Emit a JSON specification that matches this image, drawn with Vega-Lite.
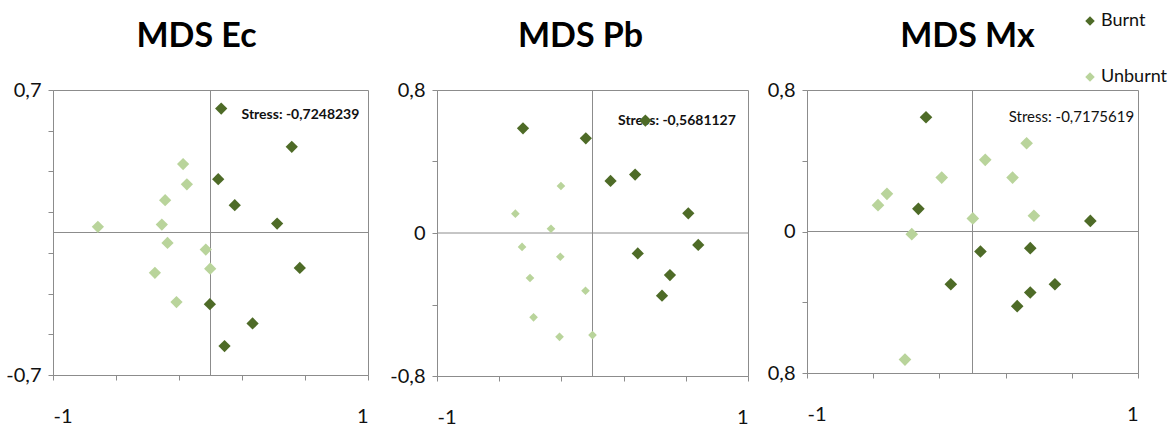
{
  "$schema": "https://vega.github.io/schema/vega-lite/v6.json",
  "background": "white",
  "padding": {"left": 5, "top": 12, "right": 0, "bottom": 0},
  "spacing": 20,
  "datasets": {
    "mds": [
      {"panel": "Ec", "group": "Burnt", "x": 0.068, "y": 0.609},
      {"panel": "Ec", "group": "Burnt", "x": 0.516, "y": 0.421},
      {"panel": "Ec", "group": "Burnt", "x": 0.049, "y": 0.262},
      {"panel": "Ec", "group": "Burnt", "x": 0.154, "y": 0.134},
      {"panel": "Ec", "group": "Burnt", "x": 0.423, "y": 0.044},
      {"panel": "Ec", "group": "Burnt", "x": 0.567, "y": -0.174},
      {"panel": "Ec", "group": "Burnt", "x": -0.004, "y": -0.352},
      {"panel": "Ec", "group": "Burnt", "x": 0.267, "y": -0.447},
      {"panel": "Ec", "group": "Burnt", "x": 0.089, "y": -0.558},
      {"panel": "Ec", "group": "Unburnt", "x": -0.174, "y": 0.336},
      {"panel": "Ec", "group": "Unburnt", "x": -0.150, "y": 0.237},
      {"panel": "Ec", "group": "Unburnt", "x": -0.288, "y": 0.159},
      {"panel": "Ec", "group": "Unburnt", "x": -0.715, "y": 0.028},
      {"panel": "Ec", "group": "Unburnt", "x": -0.309, "y": 0.039},
      {"panel": "Ec", "group": "Unburnt", "x": -0.273, "y": -0.051},
      {"panel": "Ec", "group": "Unburnt", "x": -0.030, "y": -0.084},
      {"panel": "Ec", "group": "Unburnt", "x": -0.002, "y": -0.178},
      {"panel": "Ec", "group": "Unburnt", "x": -0.353, "y": -0.198},
      {"panel": "Ec", "group": "Unburnt", "x": -0.216, "y": -0.342},
      {"panel": "Pb", "group": "Burnt", "x": -0.447, "y": 0.586},
      {"panel": "Pb", "group": "Burnt", "x": -0.043, "y": 0.530},
      {"panel": "Pb", "group": "Burnt", "x": 0.340, "y": 0.629},
      {"panel": "Pb", "group": "Burnt", "x": 0.116, "y": 0.291},
      {"panel": "Pb", "group": "Burnt", "x": 0.274, "y": 0.327},
      {"panel": "Pb", "group": "Burnt", "x": 0.616, "y": 0.110},
      {"panel": "Pb", "group": "Burnt", "x": 0.680, "y": -0.067},
      {"panel": "Pb", "group": "Burnt", "x": 0.291, "y": -0.114},
      {"panel": "Pb", "group": "Burnt", "x": 0.498, "y": -0.235},
      {"panel": "Pb", "group": "Burnt", "x": 0.447, "y": -0.351},
      {"panel": "Pb", "group": "Unburnt", "x": -0.203, "y": 0.263},
      {"panel": "Pb", "group": "Unburnt", "x": -0.496, "y": 0.108},
      {"panel": "Pb", "group": "Unburnt", "x": -0.267, "y": 0.024},
      {"panel": "Pb", "group": "Unburnt", "x": -0.453, "y": -0.078},
      {"panel": "Pb", "group": "Unburnt", "x": -0.207, "y": -0.133},
      {"panel": "Pb", "group": "Unburnt", "x": -0.402, "y": -0.252},
      {"panel": "Pb", "group": "Unburnt", "x": -0.045, "y": -0.323},
      {"panel": "Pb", "group": "Unburnt", "x": -0.379, "y": -0.472},
      {"panel": "Pb", "group": "Unburnt", "x": -0.212, "y": -0.581},
      {"panel": "Pb", "group": "Unburnt", "x": 0.000, "y": -0.571},
      {"panel": "Mx", "group": "Burnt", "x": -0.281, "y": 0.646},
      {"panel": "Mx", "group": "Burnt", "x": -0.327, "y": 0.128},
      {"panel": "Mx", "group": "Burnt", "x": 0.712, "y": 0.060},
      {"panel": "Mx", "group": "Burnt", "x": 0.048, "y": -0.113},
      {"panel": "Mx", "group": "Burnt", "x": 0.349, "y": -0.094},
      {"panel": "Mx", "group": "Burnt", "x": -0.131, "y": -0.298},
      {"panel": "Mx", "group": "Burnt", "x": 0.498, "y": -0.298},
      {"panel": "Mx", "group": "Burnt", "x": 0.349, "y": -0.345},
      {"panel": "Mx", "group": "Burnt", "x": 0.270, "y": -0.422},
      {"panel": "Mx", "group": "Unburnt", "x": 0.327, "y": 0.499},
      {"panel": "Mx", "group": "Unburnt", "x": 0.077, "y": 0.405},
      {"panel": "Mx", "group": "Unburnt", "x": -0.186, "y": 0.305},
      {"panel": "Mx", "group": "Unburnt", "x": 0.242, "y": 0.305},
      {"panel": "Mx", "group": "Unburnt", "x": -0.517, "y": 0.213},
      {"panel": "Mx", "group": "Unburnt", "x": -0.571, "y": 0.149},
      {"panel": "Mx", "group": "Unburnt", "x": 0.002, "y": 0.074},
      {"panel": "Mx", "group": "Unburnt", "x": 0.371, "y": 0.089},
      {"panel": "Mx", "group": "Unburnt", "x": -0.367, "y": -0.015},
      {"panel": "Mx", "group": "Unburnt", "x": -0.408, "y": -0.724}
    ]
  },
  "hconcat": [
    {
      "width": 315, "height": 285,
      "title": {"text": "MDS Ec", "dx": -14},
      "layer": [
        {"data": {"values": [{}]}, "mark": {"type": "rule", "color": "#8c8c8c", "strokeWidth": 1}, "encoding": {"x": {"datum": 0, "type": "quantitative", "scale": {"domain": [-1, 1], "nice": false, "zero": false}}}},
        {"data": {"values": [{}]}, "mark": {"type": "rule", "color": "#8c8c8c", "strokeWidth": 1}, "encoding": {"y": {"datum": 0, "type": "quantitative", "scale": {"domain": [-0.7, 0.7], "nice": false, "zero": false}}}},
        {"data": {"values": [{}]}, "mark": {"type": "text", "font": "Lato", "fontSize": 14, "fontWeight": "bold", "align": "center", "baseline": "middle", "color": "#111"}, "encoding": {"x": {"datum": 0.571, "type": "quantitative"}, "y": {"datum": 0.575, "type": "quantitative"}, "text": {"value": "Stress: -0,7248239"}}},
        {
          "data": {"name": "mds"},
          "transform": [{"filter": "datum.panel == 'Ec'"}],
          "mark": {"type": "point", "shape": "diamond", "filled": true, "opacity": 1, "size": 150},
          "encoding": {
            "x": {"field": "x", "type": "quantitative", "scale": {"domain": [-1, 1], "nice": false, "zero": false},
                  "axis": {"values": [-1, -0.8, -0.6, -0.4, -0.2, 0, 0.2, 0.4, 0.6, 0.8, 1], "labelExpr": "datum.value == -1 ? '-1' : datum.value == 0 ? '0' : datum.value == 1 ? '1' : ''"}},
            "y": {"field": "y", "type": "quantitative", "scale": {"domain": [-0.7, 0.7], "nice": false, "zero": false},
                  "axis": {"values": [-0.7, -0.6, -0.5, -0.4, -0.3, -0.2, -0.1, 0, 0.1, 0.2, 0.3, 0.4, 0.5, 0.6, 0.7], "labelExpr": "datum.value == 0.7 ? '0,7' : datum.value == -0.7 ? '-0,7' : datum.value == 0 ? '0' : ''"}},
            "color": {"field": "group", "type": "nominal", "scale": {"domain": ["Burnt", "Unburnt"], "range": ["#4e6b27", "#b9d49b"]},
                      "legend": {"orient": "none", "legendX": 1028, "legendY": -78, "title": null, "symbolType": "diamond", "symbolSize": 90, "symbolOpacity": 1, "labelFont": "Lato", "labelFontSize": 18, "labelColor": "#111", "rowPadding": 38, "labelOffset": 2, "padding": 0}}
          }
        }
      ]
    },
    {
      "spacing": 17,
      "hconcat": [
        {
          "width": 311, "height": 286,
          "title": {"text": "MDS Pb", "dx": -12},
          "layer": [
            {"data": {"values": [{}]}, "mark": {"type": "rule", "color": "#8c8c8c", "strokeWidth": 1}, "encoding": {"x": {"datum": 0, "type": "quantitative", "scale": {"domain": [-1, 1], "nice": false, "zero": false}}}},
            {"data": {"values": [{}]}, "mark": {"type": "rule", "color": "#8c8c8c", "strokeWidth": 1}, "encoding": {"y": {"datum": 0, "type": "quantitative", "scale": {"domain": [-0.8, 0.8], "nice": false, "zero": false}}}},
            {"data": {"values": [{}]}, "mark": {"type": "text", "font": "Lato", "fontSize": 14, "fontWeight": "bold", "align": "center", "baseline": "middle", "color": "#111"}, "encoding": {"x": {"datum": 0.543, "type": "quantitative"}, "y": {"datum": 0.627, "type": "quantitative"}, "text": {"value": "Stress:  -0,5681127"}}},
            {
              "data": {"name": "mds"},
              "transform": [{"filter": "datum.panel == 'Pb' && datum.group == 'Unburnt'"}],
              "mark": {"type": "point", "shape": "diamond", "filled": true, "opacity": 1, "size": 75},
              "encoding": {
                "x": {"field": "x", "type": "quantitative", "scale": {"domain": [-1, 1], "nice": false, "zero": false},
                      "axis": {"values": [-1, -0.8, -0.6, -0.4, -0.2, 0, 0.2, 0.4, 0.6, 0.8, 1], "labelExpr": "datum.value == -1 ? '-1' : datum.value == 0 ? '0' : datum.value == 1 ? '1' : ''"}},
                "y": {"field": "y", "type": "quantitative", "scale": {"domain": [-0.8, 0.8], "nice": false, "zero": false},
                      "axis": {"values": [-0.8, -0.7, -0.6, -0.5, -0.4, -0.3, -0.2, -0.1, 0, 0.1, 0.2, 0.3, 0.4, 0.5, 0.6, 0.7, 0.8], "labelExpr": "datum.value == 0.8 ? '0,8' : datum.value == -0.8 ? '-0,8' : datum.value == 0 ? '0' : ''"}},
                "color": {"field": "group", "type": "nominal"}
              }
            },
            {
              "data": {"name": "mds"},
              "transform": [{"filter": "datum.panel == 'Pb' && datum.group == 'Burnt'"}],
              "mark": {"type": "point", "shape": "diamond", "filled": true, "opacity": 1, "size": 150},
              "encoding": {
                "x": {"field": "x", "type": "quantitative"},
                "y": {"field": "y", "type": "quantitative"},
                "color": {"field": "group", "type": "nominal"}
              }
            }
          ]
        },
        {
          "width": 331, "height": 283,
          "title": {"text": "MDS Mx", "dx": -5},
          "layer": [
            {"data": {"values": [{}]}, "mark": {"type": "rule", "color": "#8c8c8c", "strokeWidth": 1}, "encoding": {"x": {"datum": 0, "type": "quantitative", "scale": {"domain": [-1, 1], "nice": false, "zero": false}}}},
            {"data": {"values": [{}]}, "mark": {"type": "rule", "color": "#8c8c8c", "strokeWidth": 1}, "encoding": {"y": {"datum": 0, "type": "quantitative", "scale": {"domain": [-0.8, 0.8], "nice": false, "zero": false}}}},
            {"data": {"values": [{}]}, "mark": {"type": "text", "font": "Lato", "fontSize": 15, "align": "center", "baseline": "middle", "color": "#111"}, "encoding": {"x": {"datum": 0.598, "type": "quantitative"}, "y": {"datum": 0.646, "type": "quantitative"}, "text": {"value": "Stress: -0,7175619"}}},
            {
              "data": {"name": "mds"},
              "transform": [{"filter": "datum.panel == 'Mx'"}],
              "mark": {"type": "point", "shape": "diamond", "filled": true, "opacity": 1, "size": 160},
              "encoding": {
                "x": {"field": "x", "type": "quantitative", "scale": {"domain": [-1, 1], "nice": false, "zero": false},
                      "axis": {"values": [-1, -0.8, -0.6, -0.4, -0.2, 0, 0.2, 0.4, 0.6, 0.8, 1], "labelExpr": "datum.value == -1 ? '-1' : datum.value == 0 ? '0' : datum.value == 1 ? '1' : ''"}},
                "y": {"field": "y", "type": "quantitative", "scale": {"domain": [-0.8, 0.8], "nice": false, "zero": false},
                      "axis": {"values": [-0.8, -0.6, -0.4, -0.2, 0, 0.2, 0.4, 0.6, 0.8], "labelExpr": "datum.value == 0.8 ? '0,8' : datum.value == -0.8 ? '0,8' : datum.value == 0 ? '0' : ''"}},
                "color": {"field": "group", "type": "nominal"}
              }
            }
          ]
        }
      ]
    }
  ],
  "config": {
    "view": {"stroke": "#8c8c8c", "strokeWidth": 1},
    "axis": {"title": null, "grid": false, "domainColor": "#8c8c8c", "tickColor": "#8c8c8c", "tickSize": 5, "labelFont": "Lato", "labelFontSize": 20, "labelColor": "#111", "labelOverlap": false},
    "axisX": {"labelPadding": 26},
    "axisY": {"labelPadding": 7},
    "title": {"font": "Lato", "fontSize": 34, "fontWeight": "bold", "color": "#000", "anchor": "middle", "offset": 26}
  }
}
